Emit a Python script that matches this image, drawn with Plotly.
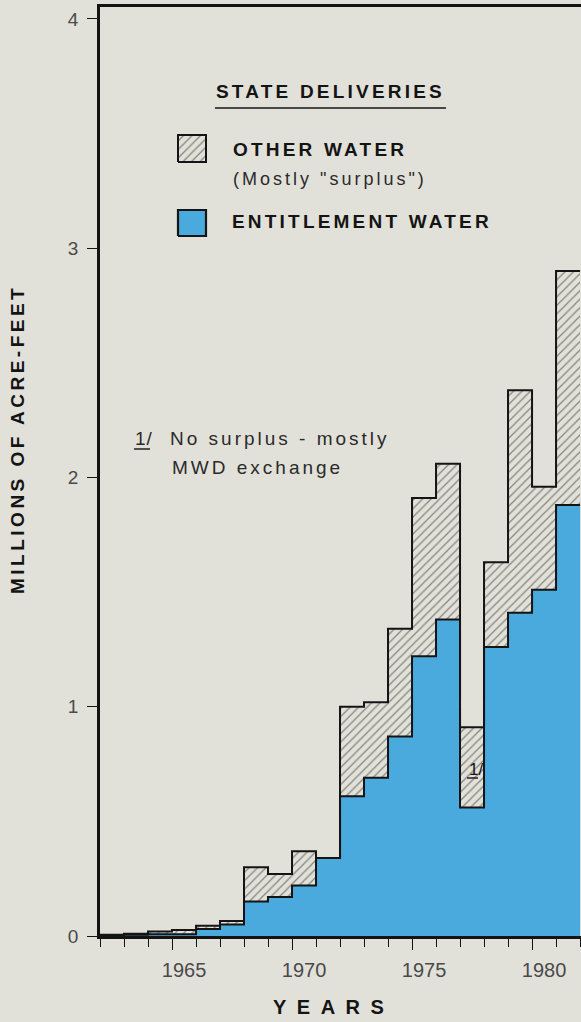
import plotly.graph_objects as go

# ---- data (millions of acre-feet) ----
years = list(range(1962, 1982))
entitlement = [0.003, 0.005, 0.008, 0.008, 0.03, 0.05, 0.15, 0.17, 0.22, 0.34,
               0.61, 0.69, 0.87, 1.22, 1.38, 0.56, 1.26, 1.41, 1.51, 1.88]
other = [0.002, 0.005, 0.012, 0.018, 0.015, 0.015, 0.15, 0.10, 0.15, 0.0,
         0.39, 0.33, 0.47, 0.69, 0.68, 0.35, 0.37, 0.97, 0.45, 1.02]
label_years = [1965, 1970, 1975, 1980]
y_ticks = [0, 1, 2, 3, 4]

BG = "#e1e1d9"
BLUE = "#4aa9dd"
INK = "#141414"
FONT = "Liberation Sans"

total = [e + o for e, o in zip(entitlement, other)]
xs = years + [years[-1] + 1]
ent_step = entitlement + [entitlement[-1]]
tot_step = total + [total[-1]]
XR = [years[0], 1982.04]

W, H = 581, 1022
L, R, T, B = 100, 0, 7, 86
pw, ph = W - L - R, H - T - B

def px(x):
    return (x - L) / pw

def py(y):
    return (H - B - y) / ph

def sp(s, ls):
    return '<span style="letter-spacing:%spx">%s</span>' % (ls, s)

HATCH = dict(shape="/", fgcolor="#262626", bgcolor=BG, size=6, solidity=0.2)

fig = go.Figure()
fig.add_trace(go.Scatter(
    x=xs, y=ent_step, mode="lines", line=dict(shape="hv", color=INK, width=2),
    fill="tozeroy", fillcolor=BLUE, hoverinfo="skip", showlegend=False))
fig.add_trace(go.Scatter(
    x=xs, y=tot_step, mode="lines", line=dict(shape="hv", color=INK, width=2),
    fill="tonexty", fillcolor=BG, fillpattern=HATCH,
    hoverinfo="skip", showlegend=False))
# carrier for the long major ticks axis
fig.add_trace(go.Scatter(x=[None], y=[None], xaxis="x3", yaxis="y",
                         hoverinfo="skip", showlegend=False))

# legend swatches drawn on an overlay axis (0..1 across plot area)
def box(x0, x1, y0, y1):
    return [x0, x1, x1, x0, x0], [y0, y0, y1, y1, y0]

bx, by = box(px(178), px(206), py(162), py(135))
fig.add_trace(go.Scatter(x=bx, y=by, xaxis="x2", yaxis="y2", mode="lines",
                         line=dict(color=INK, width=2), fill="toself", fillcolor=BG,
                         fillpattern=HATCH, hoverinfo="skip", showlegend=False))
bx, by = box(px(178), px(206), py(236), py(210))
fig.add_trace(go.Scatter(x=bx, y=by, xaxis="x2", yaxis="y2", mode="lines",
                         line=dict(color=INK, width=2.2), fill="toself", fillcolor=BLUE,
                         hoverinfo="skip", showlegend=False))

ann = []
def txt(x, y, s, size=19, anchor="left", color=INK, angle=0):
    ann.append(dict(x=px(x), y=py(y), xref="paper", yref="paper", text=s,
                    showarrow=False, xanchor=anchor, yanchor="middle",
                    textangle=angle, borderpad=0,
                    font=dict(family=FONT, size=size, color=color)))

txt(215, 92, "<b>" + sp("STATE DELIVERIES", 3.2) + "</b>", 19)
txt(232, 150, "<b>" + sp("OTHER WATER", 3.2) + "</b>", 19)
txt(232, 179, sp('(Mostly "surplus")', 3.0), 18, color="#2a2a2a")
txt(231, 222, "<b>" + sp("ENTITLEMENT WATER", 3.2) + "</b>", 19)
txt(134, 438, sp("1/", 1), 19, color="#2a2a2a")
txt(169, 438, sp("No surplus - mostly", 3.0), 19, color="#2a2a2a")
txt(171, 467, sp("MWD exchange", 3.0), 19, color="#2a2a2a")
txt(468, 769, sp("1/", 0), 17, color=INK)
txt(17, 440, "<b>" + sp("MILLIONS OF ACRE-FEET", 3.5) + "</b>", 19, anchor="center", angle=-90)
txt(333, 1007, "<b>" + sp("YEARS", 10.5) + "</b>", 20, anchor="center")

shapes = [
    dict(type="line", xref="paper", yref="paper", x0=px(215), x1=px(446),
         y0=py(108), y1=py(108), line=dict(color=INK, width=1.6)),
    dict(type="line", xref="paper", yref="paper", x0=px(134), x1=px(150),
         y0=py(449), y1=py(449), line=dict(color="#2a2a2a", width=1.6)),
    dict(type="line", xref="paper", yref="paper", x0=px(467), x1=px(478),
         y0=py(778), y1=py(778), line=dict(color=INK, width=1.4)),
]

fig.update_layout(
    width=W, height=H, margin=dict(l=L, r=R, t=T, b=B),
    paper_bgcolor=BG, plot_bgcolor=BG,
    annotations=ann, shapes=shapes,
    xaxis=dict(range=XR, showgrid=False, zeroline=False,
               showline=True, linecolor=INK, linewidth=2.5, mirror=True,
               tickmode="array", tickvals=[y + 0.5 for y in label_years],
               ticktext=[str(y) for y in label_years],
               ticks="", ticklabelstandoff=14,
               minor=dict(dtick=1, tick0=years[0], ticks="outside", ticklen=8,
                          tickwidth=1.4, tickcolor=INK, showgrid=False),
               tickfont=dict(family=FONT, size=20, color="#4a4a4a")),
    xaxis3=dict(range=XR, overlaying="x", anchor="y", side="bottom",
                showgrid=False, zeroline=False, showline=False,
                tickmode="array", tickvals=label_years, showticklabels=False,
                ticks="outside", ticklen=13, tickwidth=1.4, tickcolor=INK),
    yaxis=dict(range=[0, 4.052], showgrid=False, zeroline=False,
               showline=True, linecolor=INK, linewidth=2.5,
               tickvals=y_ticks, ticks="outside", ticklen=10, tickwidth=1.4,
               tickcolor=INK, ticklabelstandoff=5,
               tickfont=dict(family=FONT, size=19, color="#4a4a4a")),
    xaxis2=dict(range=[0, 1], overlaying="x", visible=False, fixedrange=True),
    yaxis2=dict(range=[0, 1], overlaying="y", visible=False, fixedrange=True),
)

fig.write_html("out.html", config={"displayModeBar": False},
               post_script="document.body.style.margin='0';")
